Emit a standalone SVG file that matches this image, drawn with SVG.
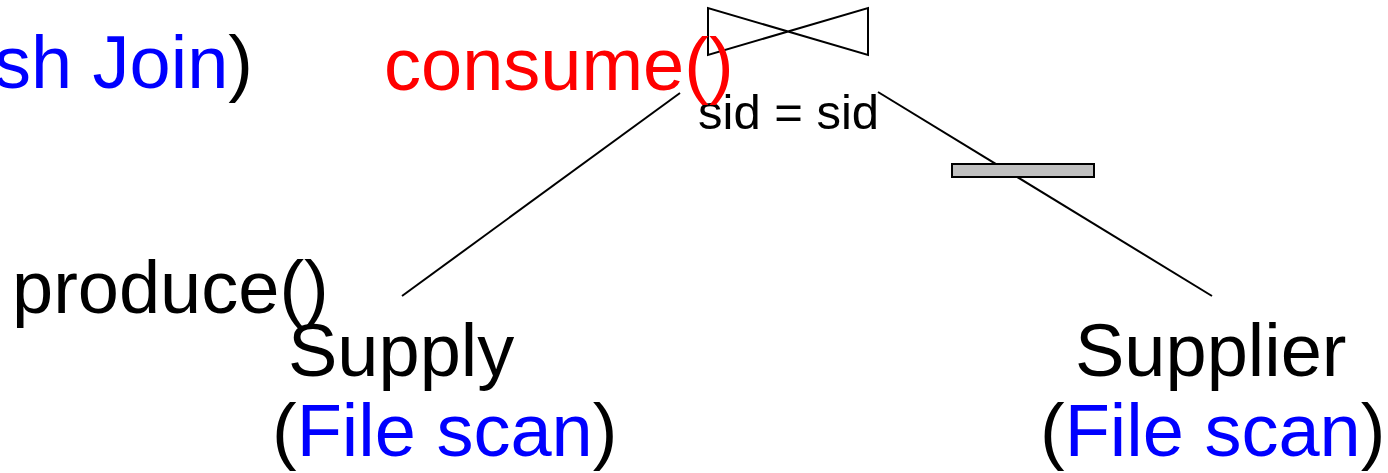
<svg xmlns="http://www.w3.org/2000/svg" width="1388" height="473" viewBox="0 0 1388 473">
<style>
text{font-family:"Liberation Sans",Arial,sans-serif;fill:#000}
.big{font-size:74px}
.small{font-size:49px}
.blue{fill:#0000ff}
.red{fill:#ff0000}
.ln{stroke:#000;stroke-width:2;fill:none}
</style>
<rect width="1388" height="473" fill="#fff"/>
<g id="connectors">
<line class="ln" x1="680" y1="93" x2="402" y2="296"/>
<line class="ln" x1="878" y1="92" x2="1212" y2="296"/>
</g>
<g id="join">
<polygon class="ln" points="708,8 708,55 868,8 868,55"/>
<text class="small" x="698" y="129">sid = sid</text>
</g>
<g id="select">
<rect x="952" y="164" width="142" height="13" fill="#c0c0c0" stroke="#000" stroke-width="2"/>
</g>
<g id="labels">
<text class="big" x="253" y="88" text-anchor="end">(<tspan class="blue">Hash Join</tspan>)</text>
<text class="big red" x="384" y="90">consume()</text>
<text class="big" x="12" y="313">produce()</text>
</g>
<g id="supply">
<text class="big" x="288" y="376">Supply</text>
<text class="big" x="272" y="456">(<tspan class="blue">File scan</tspan>)</text>
</g>
<g id="supplier">
<text class="big" x="1075" y="376">Supplier</text>
<text class="big" x="1040" y="456">(<tspan class="blue">File scan</tspan>)</text>
</g>
</svg>
